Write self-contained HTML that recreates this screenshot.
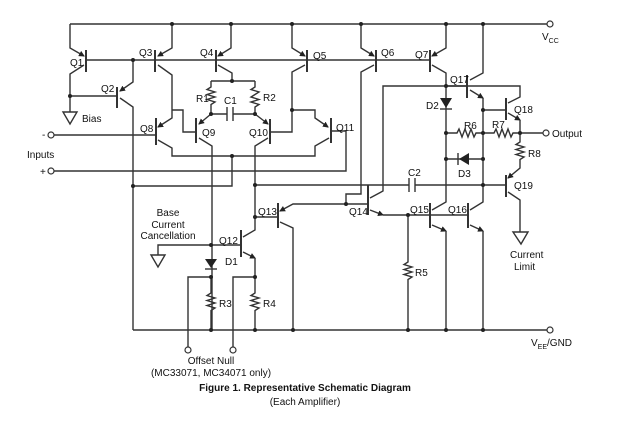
<!DOCTYPE html>
<html><head><meta charset="utf-8"><style>
html,body{margin:0;padding:0;background:#fff;width:625px;height:427px;overflow:hidden}
svg{display:block}
text{font-family:"Liberation Sans",sans-serif;font-size:10px;fill:#111}
.l{stroke:#333;stroke-width:1.4;fill:none}
.b{stroke:#333;stroke-width:2;fill:none}
</style></head><body>
<svg width="625" height="427" viewBox="0 0 625 427">
<defs><marker id="a" markerWidth="6" markerHeight="6" refX="5" refY="3" orient="auto" markerUnits="userSpaceOnUse"><path d="M0,0 L6,3 L0,6z" fill="#222"/></marker></defs>
<g class="l">
<!-- rails -->
<path d="M70,24H547"/><path d="M133,330H547"/>
<path d="M86,60H430"/>
<!-- Q1 -->
<path d="M70,24V48L84,56" marker-end="url(#a)"/><path d="M84,65L70,74V112"/><path d="M70,96H117"/>
<path d="M63,112H77L70,124Z"/>
<!-- Q2 -->
<path d="M133,60V82L120,91" marker-end="url(#a)"/><path d="M120,98L133,107V330"/>
<!-- Q3 -->
<path d="M172,24V48L158,56" marker-end="url(#a)"/><path d="M158,65L172,75V118L158,127" marker-end="url(#a)"/>
<path d="M172,110H183V132H196"/>
<!-- Q8 -->
<path d="M54,135H156"/><path d="M158,140L172,148V156H315V146L329,138"/>
<!-- Q4 -->
<path d="M231,24V48L218,56" marker-end="url(#a)"/><path d="M218,65L232,73V81"/>
<path d="M211,81H255"/>
<path d="M211,81V87l-4,2.5l8,2.5l-8,2.5l8,2.5l-8,2.5l8,2.5l-4,2.5V114"/>
<path d="M255,81V87l-4,2.5l8,2.5l-4,2.5l-4,2.5l8,2.5l-8,2.5l8,2.5l-4,2.5V114"/>
<path d="M211,114H227M233,114H255"/>
<path d="M211,114L199,124" marker-end="url(#a)"/><path d="M255,114L268,124" marker-end="url(#a)"/>
<!-- Q9 collector -->
<path d="M199,138L212,146V330"/>
<!-- Q10 -->
<path d="M270,132H292V110M292,24V48L305,56" marker-end="url(#a)"/>
<path d="M305,65L292,72V110H315V118L328,127" marker-end="url(#a)"/>
<path d="M268,138L255,146V230L243,237"/>
<path d="M331,131H346V171H54"/>
<path d="M133,186H232V156"/>
<!-- C2 line -->
<path d="M255,185H409M415,185H506"/>
<!-- Q5/Q6/Q7 -->
<path d="M361,24V48L374,56" marker-end="url(#a)"/><path d="M374,65L361,72V194H346V204H368"/>
<path d="M446,24V48L432,56" marker-end="url(#a)"/><path d="M432,65L446,73V202L432,210"/>
<!-- Q13 -->
<path d="M255,217H278"/><path d="M346,204H293L280,211" marker-end="url(#a)"/><path d="M280,222L293,228V330"/>
<!-- Q14 -->
<path d="M370,198L383,191V86H520V97L508,103"/>
<path d="M370,210L383,215" marker-end="url(#a)"/><path d="M383,215H468"/>
<path d="M408,215V262l-4,2.5l8,2.5l-8,2.5l8,2.5l-8,2.5l8,2.5l-4,2.5V330"/>
<!-- Q15/Q16 -->
<path d="M432,225L446,231" marker-end="url(#a)"/><path d="M446,231V330"/>
<path d="M470,225L483,231" marker-end="url(#a)"/><path d="M483,231V330"/>
<path d="M470,210L483,202V109"/>
<!-- Q17 -->
<path d="M483,24V73L470,80"/><path d="M470,90L483,98" marker-end="url(#a)"/><path d="M483,98V110H506"/>
<path d="M446,86H467"/>
<!-- R6 R7 -->
<path d="M446,133H457l2,-4l3,8l3,-8l3,8l3,-8l3,8l2,-4H483"/>
<path d="M483,133H494l2,-4l3,8l3,-8l3,8l3,-8l3,8l2,-4H520"/>
<path d="M520,133H543"/>
<path d="M446,159H483"/>
<!-- Q18 -->
<path d="M508,113L520,120" marker-end="url(#a)"/><path d="M520,120V142l-4,2.5l8,2.5l-8,2.5l8,2.5l-8,2.5l8,2.5l-4,2.5V168L508,178" marker-end="url(#a)"/>
<path d="M508,192L520,200V232"/><path d="M513,232H528L521,244Z"/>
<!-- Q12 area -->
<path d="M158,255V245H241"/><path d="M151,255H165L158,267Z"/>
<path d="M243,252L255,258" marker-end="url(#a)"/><path d="M255,258V293l-4,2.5l8,2.5l-8,2.5l8,2.5l-8,2.5l8,2.5l-4,2.5V330"/>
<path d="M211,277V293l-4,2.5l8,2.5l-8,2.5l8,2.5l-8,2.5l8,2.5l-4,2.5V330"/>
<path d="M211,277H188V347M255,277H233V347"/>
</g>
<!-- bars -->
<g class="b">
<path d="M86,50V72M117,87V108M155,50V72M156,118V145M196,118V143M216,50V72M270,119V144M307,50V72M331,118V143M376,50V72M430,50V72M278,203V228M241,230V257M368,185V215M430,203V228M468,203V228M467,75V98M506,98V120M506,175V197"/>
<path d="M227,107V121M233,107V121" stroke-width="1.4"/>
<path d="M409,178V192M415,178V192" stroke-width="1.4"/>
</g>
<!-- diodes -->
<path d="M440,98H452L446,108Z" fill="#222"/><path class="l" d="M440,109H452"/>
<path d="M469,153V165L459,159Z" fill="#222"/><path class="l" d="M458,153V165"/>
<path d="M205,259H217L211,268Z" fill="#222"/><path class="l" d="M205,269H217"/>
<!-- circles -->
<g fill="#fff" stroke="#333" stroke-width="1.2">
<circle cx="51" cy="135" r="3"/><circle cx="51" cy="171" r="3"/><circle cx="550" cy="24" r="3"/><circle cx="546" cy="133" r="3"/><circle cx="550" cy="330" r="3"/><circle cx="188" cy="350" r="3"/><circle cx="233" cy="350" r="3"/>
</g>
<g fill="#222">
<circle cx="172" cy="24" r="2"/><circle cx="231" cy="24" r="2"/><circle cx="292" cy="24" r="2"/><circle cx="361" cy="24" r="2"/><circle cx="446" cy="24" r="2"/><circle cx="483" cy="24" r="2"/>
<circle cx="133" cy="60" r="2"/><circle cx="70" cy="96" r="2"/><circle cx="232" cy="81" r="2"/><circle cx="211" cy="114" r="2"/><circle cx="255" cy="114" r="2"/>
<circle cx="292" cy="110" r="2"/><circle cx="232" cy="156" r="2"/><circle cx="133" cy="186" r="2"/><circle cx="255" cy="185" r="2"/><circle cx="255" cy="217" r="2"/>
<circle cx="346" cy="204" r="2"/><circle cx="446" cy="86" r="2"/><circle cx="483" cy="110" r="2"/><circle cx="446" cy="133" r="2"/><circle cx="483" cy="133" r="2"/><circle cx="520" cy="133" r="2"/>
<circle cx="446" cy="159" r="2"/><circle cx="483" cy="159" r="2"/><circle cx="483" cy="185" r="2"/><circle cx="408" cy="215" r="2"/>
<circle cx="211" cy="245" r="2"/><circle cx="211" cy="277" r="2"/><circle cx="255" cy="277" r="2"/>
<circle cx="211" cy="330" r="2"/><circle cx="255" cy="330" r="2"/><circle cx="293" cy="330" r="2"/><circle cx="408" cy="330" r="2"/><circle cx="446" cy="330" r="2"/><circle cx="483" cy="330" r="2"/>
</g>
<text x="70" y="66">Q1</text><text x="101" y="92">Q2</text><text x="139" y="56">Q3</text><text x="200" y="56">Q4</text><text x="313" y="59">Q5</text><text x="381" y="56">Q6</text><text x="415" y="58">Q7</text>
<text x="140" y="132">Q8</text><text x="202" y="136">Q9</text><text x="249" y="136">Q10</text><text x="336" y="131">Q11</text>
<text x="196" y="102">R1</text><text x="224" y="104">C1</text><text x="263" y="101">R2</text>
<text x="82" y="122">Bias</text><text x="42" y="138">-</text><text x="27" y="158">Inputs</text><text x="40" y="175">+</text>
<text x="450" y="83">Q17</text><text x="514" y="113">Q18</text><text x="514" y="189">Q19</text><text x="426" y="109">D2</text>
<text x="464" y="129">R6</text><text x="492" y="128">R7</text><text x="528" y="157">R8</text><text x="458" y="177">D3</text><text x="408" y="176">C2</text>
<text x="552" y="137">Output</text><text x="542" y="40">V<tspan font-size="7" dy="3">CC</tspan></text>
<text x="531" y="346">V<tspan font-size="7" dy="3">EE</tspan><tspan dy="-3">/GND</tspan></text>
<text x="258" y="215">Q13</text><text x="349" y="215">Q14</text><text x="410" y="213">Q15</text><text x="448" y="213">Q16</text><text x="219" y="244">Q12</text>
<text x="225" y="265">D1</text><text x="219" y="307">R3</text><text x="263" y="307">R4</text><text x="415" y="276">R5</text>
<text x="168" y="216" text-anchor="middle">Base</text><text x="168" y="228" text-anchor="middle">Current</text><text x="168" y="239" text-anchor="middle">Cancellation</text>
<text x="510" y="258">Current</text><text x="514" y="270">Limit</text>
<text x="211" y="364" text-anchor="middle">Offset Null</text><text x="211" y="376" text-anchor="middle">(MC33071, MC34071 only)</text>
<text x="305" y="391" text-anchor="middle" font-weight="bold" font-size="11">Figure 1. Representative Schematic Diagram</text>
<text x="305" y="405" text-anchor="middle" font-size="11">(Each Amplifier)</text>
</svg>
</body></html>
